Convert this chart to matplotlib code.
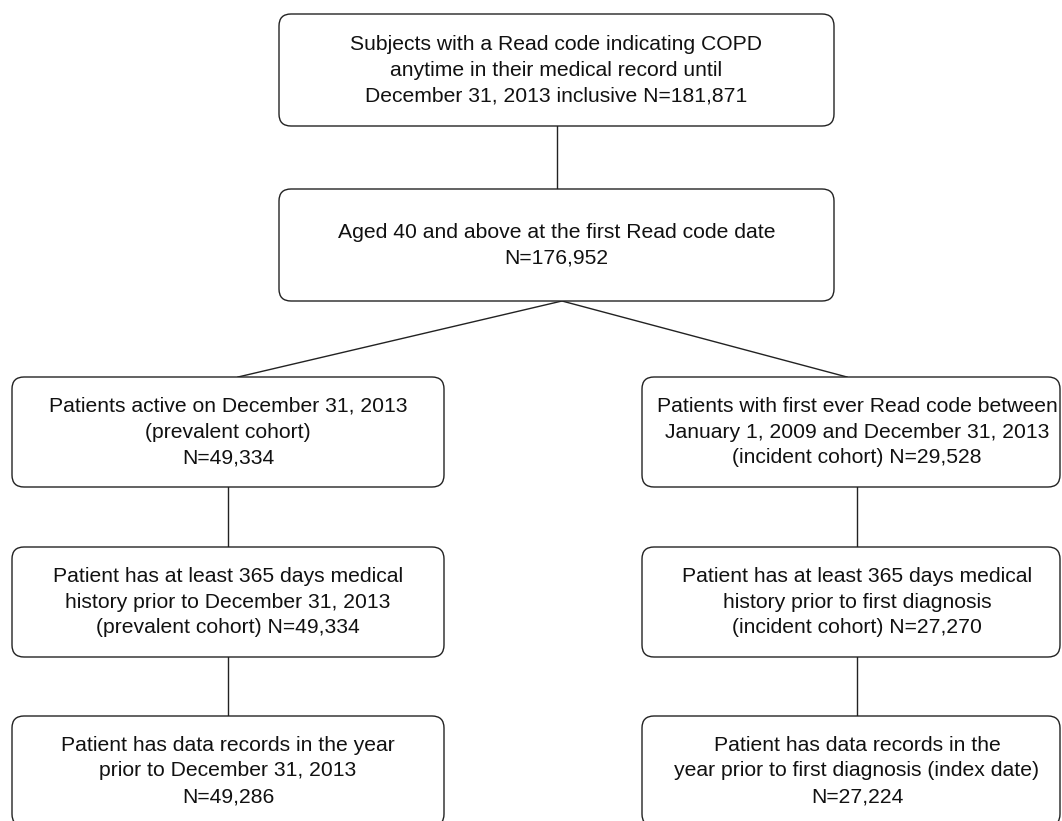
import matplotlib.pyplot as plt
from matplotlib.patches import FancyBboxPatch

plt.rcParams['font.family'] = ['Liberation Sans', 'DejaVu Sans']

top_texts = [
    "Subjects with a Read code indicating COPD\nanytime in their medical record until\nDecember 31, 2013 inclusive N=181,871",
    "Aged 40 and above at the first Read code date\nN=176,952",
]
left_texts = [
    "Patients active on December 31, 2013\n(prevalent cohort)\nN=49,334",
    "Patient has at least 365 days medical\nhistory prior to December 31, 2013\n(prevalent cohort) N=49,334",
    "Patient has data records in the year\nprior to December 31, 2013\nN=49,286",
]
right_texts = [
    "Patients with first ever Read code between\nJanuary 1, 2009 and December 31, 2013\n(incident cohort) N=29,528",
    "Patient has at least 365 days medical\nhistory prior to first diagnosis\n(incident cohort) N=27,270",
    "Patient has data records in the\nyear prior to first diagnosis (index date)\nN=27,224",
]

fig = plt.figure(figsize=(10.62, 8.21), dpi=100)
ax = fig.add_axes([0, 0, 1, 1])
ax.set_xlim(0, 1062)
ax.set_ylim(821, 0)
ax.axis('off')

lw = 1.0
fs = 15.2


def box(x0, y0, x1, y1, text, cx=None):
    p = FancyBboxPatch((x0, y0), x1 - x0, y1 - y0,
                       boxstyle="round,pad=0,rounding_size=12",
                       fc='white', ec='#222222', lw=lw, zorder=2)
    ax.add_patch(p)
    if cx is None:
        cx = (x0 + x1) / 2
    ax.text(cx, (y0 + y1) / 2, text, ha='center', va='center',
            fontsize=fs, linespacing=1.45, color='#111111', zorder=3)


# top column
box(279, 14, 834, 126, top_texts[0])
box(279, 189, 834, 301, top_texts[1])
ax.plot([557, 557], [126, 189], color='#222222', lw=lw, zorder=1)

# split
rows = [(377, 487), (547, 657), (716, 826)]
lx0, lx1 = 12, 444
rx0, rx1 = 642, 1060
lcx = 228
rcx = 857
ax.plot([238, 562, 847], [377, 301, 377], color='#222222', lw=lw, zorder=1)

for i, (y0, y1) in enumerate(rows):
    box(lx0, y0, lx1, y1, left_texts[i], cx=lcx)
    box(rx0, y0, rx1, y1, right_texts[i], cx=rcx)
    if i > 0:
        py1 = rows[i - 1][1]
        ax.plot([lcx, lcx], [py1, y0], color='#222222', lw=lw, zorder=1)
        ax.plot([rcx, rcx], [py1, y0], color='#222222', lw=lw, zorder=1)

fig.savefig('out.png', dpi=100)
